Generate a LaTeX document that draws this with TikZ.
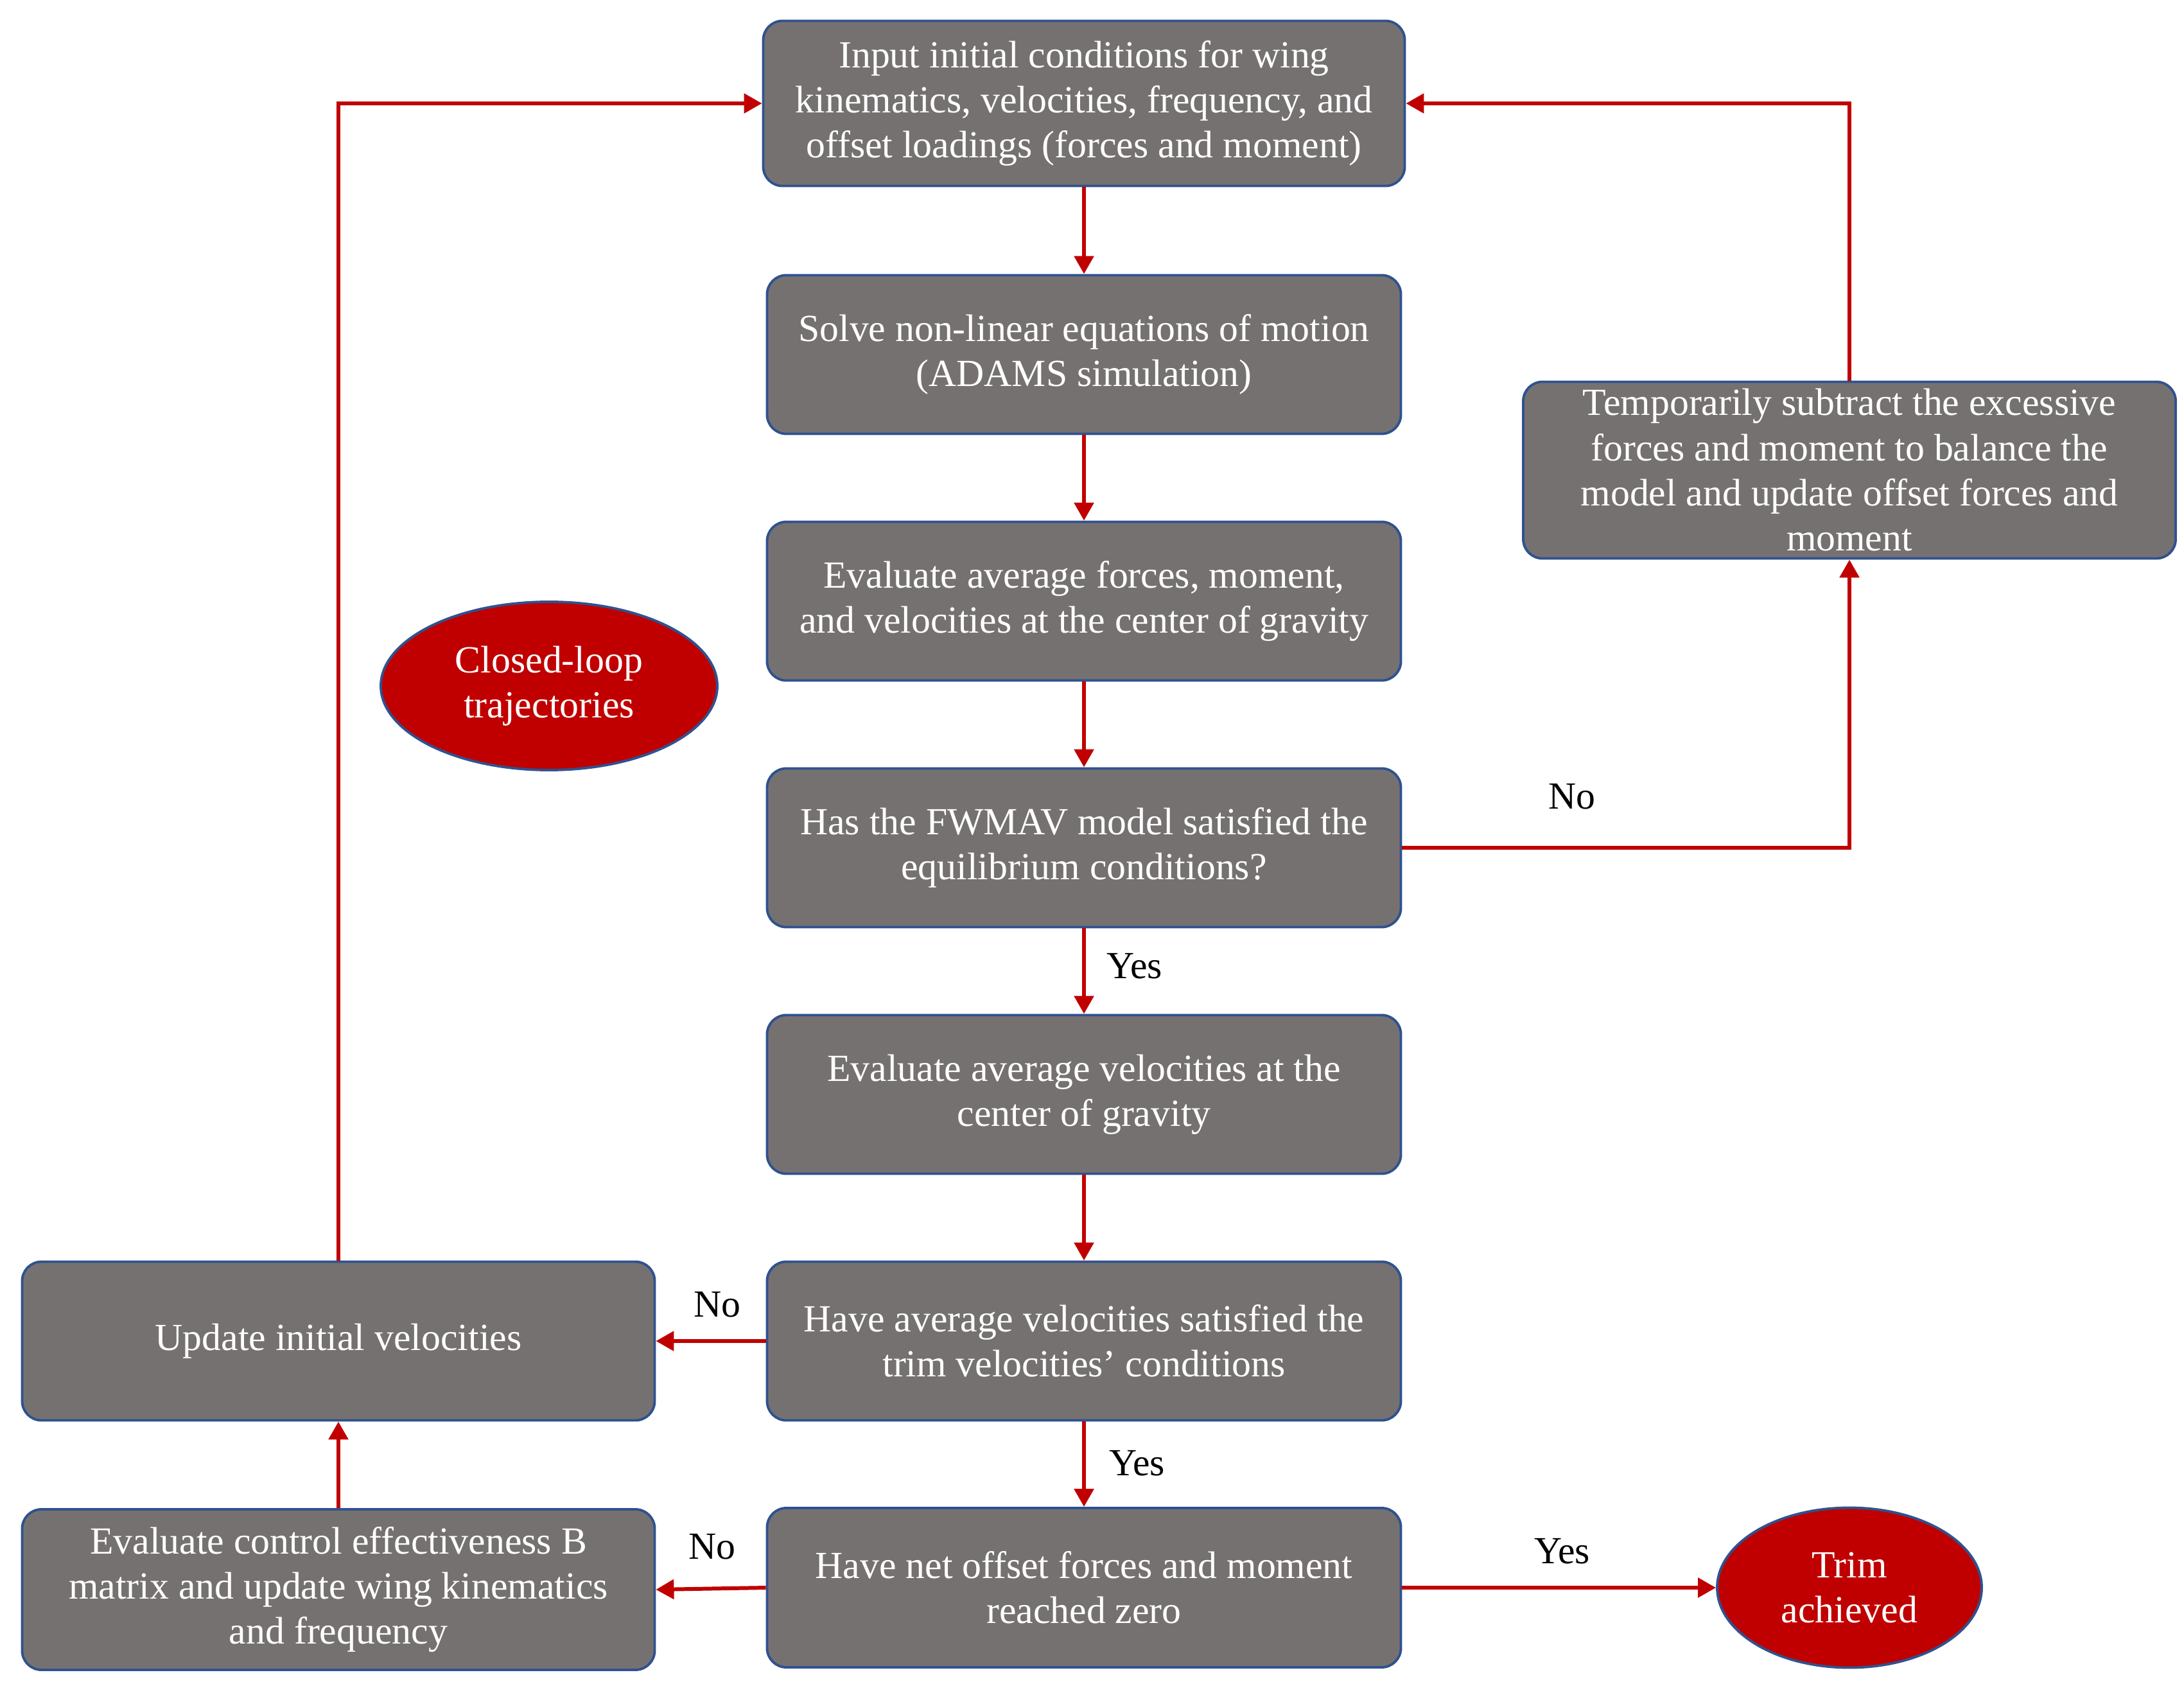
\documentclass[tikz,border=0pt]{standalone}
\usepackage{fontspec}
\setmainfont{Liberation Serif}
\usepackage[]{xcolor}
\usepackage[]{tikz}
\usetikzlibrary{arrows.meta,shapes.geometric}

\definecolor{boxgray}{RGB}{118,113,113}
\definecolor{boxedge}{RGB}{47,82,143}
\definecolor{flowred}{RGB}{192,0,0}

\begin{document}
\begin{tikzpicture}[>={Triangle[length=0.28cm,width=0.3cm]},
        font=\fontsize{17}{20}\selectfont,
        stepbox/.style={draw=boxedge, line width=1.1pt, fill=boxgray, text=white, rounded corners=0.3cm,
            align=center, minimum width=9.87cm, minimum height=2.47cm, inner sep=0pt},
        endnode/.style={ellipse, draw=boxedge, line width=1.1pt, fill=flowred, text=white, align=center, inner sep=0pt},
        flow/.style={->, draw=flowred, line width=1.7pt},
        answer/.style={text=black, inner sep=0pt}]
        \useasboundingbox (0, 0) rectangle (34.01, -26.22);

        % main column
        \node[stepbox, minimum width=9.99cm, minimum height=2.57cm] (input) at (16.88, -1.61)
            {Input initial conditions for wing\\kinematics, velocities, frequency, and\\offset loadings (forces and moment)};
        \node[stepbox] (solve) at (16.88, -5.52) {Solve non-linear equations of motion\\(ADAMS simulation)};
        \node[stepbox] (evalforce) at (16.88, -9.36) {Evaluate average forces, moment,\\and velocities at the center of gravity};
        \node[stepbox] (equil) at (16.88, -13.20) {Has the FWMAV model satisfied the\\equilibrium conditions?};
        \node[stepbox] (evalvel) at (16.88, -17.04) {Evaluate average velocities at the\\center of gravity};
        \node[stepbox] (trimvel) at (16.88, -20.88) {Have average velocities satisfied the\\trim velocities' conditions};
        \node[stepbox, minimum height=2.48cm] (netoff) at (16.88, -24.72) {Have net offset forces and moment\\reached zero};

        % side boxes
        \node[stepbox, minimum width=10.16cm, minimum height=2.75cm] (subtract) at (28.80, -7.32)
            {Temporarily subtract the excessive\\forces and moment to balance the\\model and update offset forces and\\moment};
        \node[stepbox, minimum width=9.85cm] (updvel) at (5.27, -20.88) {Update initial velocities};
        \node[stepbox, minimum width=9.85cm, minimum height=2.50cm] (ctrl) at (5.27, -24.75)
            {Evaluate control effectiveness B\\matrix and update wing kinematics\\and frequency};

        \node[endnode, minimum width=5.24cm, minimum height=2.62cm] (closed) at (8.55, -10.68) {Closed-loop\\trajectories};
        \node[endnode, minimum width=4.12cm, minimum height=2.49cm] (trim) at (28.80, -24.72) {Trim\\achieved};

        % connectors
        \draw[flow] (input) -- (solve);
        \draw[flow] (solve) -- (evalforce);
        \draw[flow] (evalforce) -- (equil);
        \draw[flow] (equil) -- node[answer, right=0.32cm, pos=0.44] {Yes} (evalvel);
        \draw[flow] (evalvel) -- (trimvel);
        \draw[flow] (trimvel) -- node[answer, right=0.36cm, pos=0.49] {Yes} (netoff);

        \draw[flow] (equil.east) -| node[answer, above=0.57cm, pos=0.19] {No} (subtract.south);
        \draw[flow] (subtract.north) |- (input.east);

        \draw[flow] (trimvel.west) -- node[answer, above=0.34cm, pos=0.44] {No} (updvel.east);
        \draw[flow] (netoff.west) -- node[answer, above=0.42cm, pos=0.49] {No} (ctrl.east);
        \draw[flow] (ctrl.north) -- (updvel.south);
        \draw[flow] (updvel.north) |- (input.west);
        \draw[flow] (netoff.east) -- node[answer, above=0.34cm, pos=0.51] {Yes} (trim.west);
      \end{tikzpicture}
\end{document}
